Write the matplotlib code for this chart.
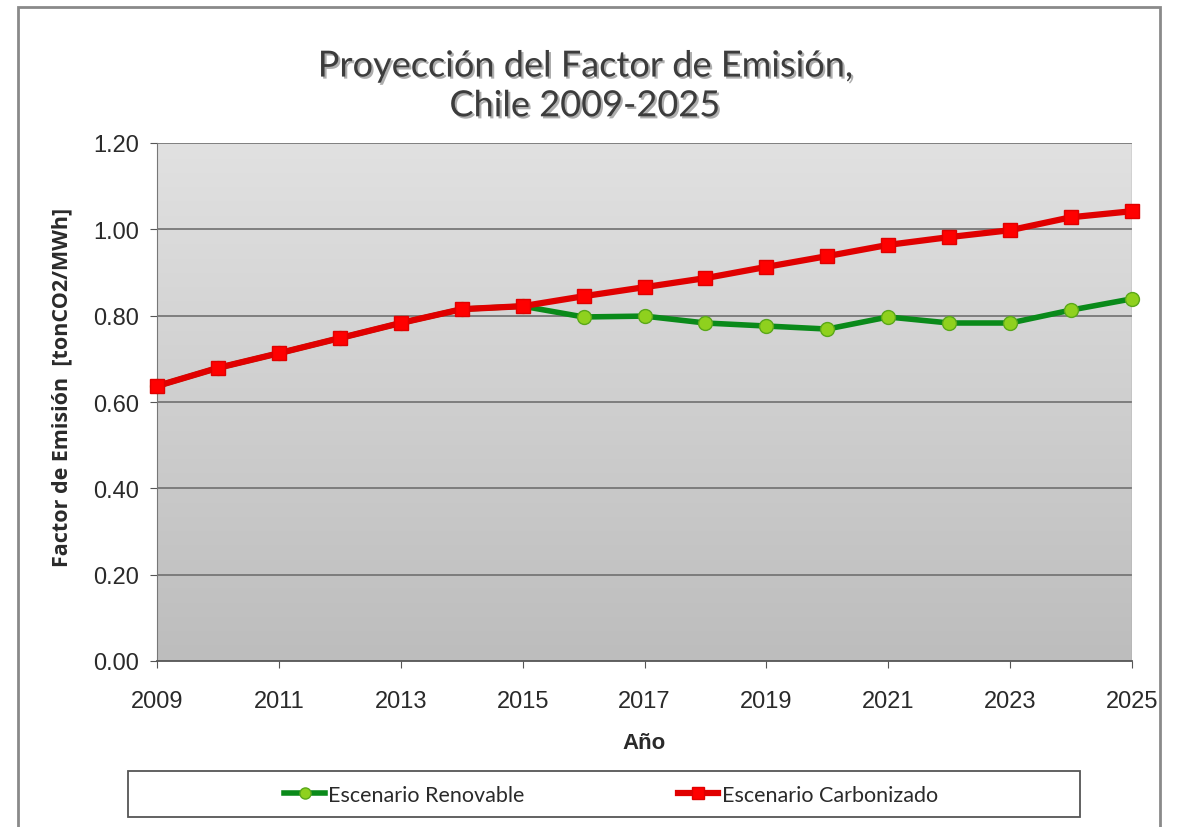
import matplotlib
matplotlib.use('Agg')
import matplotlib.pyplot as plt
import numpy as np
from matplotlib.patches import Rectangle
import matplotlib.patheffects as pe

# datos
years = list(range(2009, 2026))
renovable = [0.637, 0.679, 0.713, 0.748, 0.783, 0.815, 0.822, 0.797, 0.799, 0.783,
             0.776, 0.769, 0.797, 0.783, 0.783, 0.813, 0.839]
carbonizado = [0.637, 0.679, 0.713, 0.748, 0.783, 0.815, 0.822, 0.845, 0.866, 0.887,
               0.913, 0.938, 0.964, 0.982, 0.998, 1.028, 1.042]
xticks = list(range(2009, 2026, 2))
yticks = [0.0, 0.2, 0.4, 0.6, 0.8, 1.0, 1.2]

fig = plt.figure(figsize=(11.78, 8.28), dpi=100)
# marco exterior
fig.patches.append(Rectangle((18 / 1178, -0.01), 1142 / 1178, 1 - 8 / 828 + 0.01,
                             transform=fig.transFigure, fill=False,
                             edgecolor='#8a8a8a', linewidth=2))
# marco de la leyenda
fig.patches.append(Rectangle((128 / 1178, 1 - 818 / 828), (1080 - 128) / 1178, 46 / 828,
                             transform=fig.transFigure, facecolor='white',
                             edgecolor='#555555', linewidth=1.3))

ax = fig.add_axes([157 / 1178, 1 - 662 / 828, (1132 - 157) / 1178, (662 - 144) / 828])

# fondo degradado gris
cmap = matplotlib.colors.LinearSegmentedColormap.from_list('g', ['#e1e1e1', '#bdbdbd'])
grad = np.linspace(0, 1, 256).reshape(-1, 1)
ax.imshow(grad, cmap=cmap, extent=[0, 1, 0, 1], transform=ax.transAxes,
          aspect='auto', zorder=0)

ax.set_xlim(2009, 2025)
ax.set_ylim(0, 1.2)
for y in yticks[1:]:
    ax.axhline(y, color='#707070', linewidth=1.2, zorder=1)
ax.axvline(2025, color='#a0a0a0', linewidth=1, zorder=1)

ax.plot(years, renovable, color='#0a8a1a', linewidth=4, marker='o', markersize=10,
        markerfacecolor='#8fd11e', markeredgecolor='#5aa81a', markeredgewidth=1,
        label='Escenario Renovable', zorder=3, clip_on=False)
ax.plot(years, carbonizado, color='#e00000', linewidth=4.5, marker='s', markersize=10,
        markerfacecolor='#ff0000', markeredgecolor='#e00000',
        label='Escenario Carbonizado', zorder=4, clip_on=False)

ax.set_xticks(xticks)
ax.set_yticks(yticks)
ax.set_yticklabels(['%.2f' % v for v in yticks])
ax.tick_params(axis='both', direction='out', length=5, color='#555555',
               labelsize=17, labelcolor='#2a2a2a')
for lab in ax.get_xticklabels() + ax.get_yticklabels():
    lab.set_family('Liberation Sans')
ax.tick_params(axis='y', pad=8)
ax.tick_params(axis='x', pad=16)

for s in ['top', 'right']:
    ax.spines[s].set_visible(False)
ax.spines['left'].set_color('#777777')
ax.spines['bottom'].set_color('#555555')
ax.spines['bottom'].set_linewidth(1.3)

ax.set_xlabel('Año', fontsize=16, fontweight='bold', family='Liberation Sans',
              labelpad=14, color='#2a2a2a')
ax.set_ylabel('Factor de Emisión  [tonCO2/MWh]', fontsize=15.5, fontweight='bold',
              family='Open Sans', color='#2a2a2a')
ax.yaxis.set_label_coords(-0.087, 0.53)

fig.text(0.4966, 0.895, 'Proyección del Factor de Emisión,\nChile 2009-2025', ha='center',
         va='center', fontsize=26, family='Lato', linespacing=1.25, color='#3c3c3c',
         path_effects=[pe.withSimplePatchShadow(offset=(1.5, -1.5), shadow_rgbFace='#9a9a9a',
                                                alpha=0.8)])

leg = fig.legend(loc='center', bbox_to_anchor=(611 / 1178, 1 - 796 / 828), ncol=2,
                 frameon=False, prop={'family': 'Lato', 'size': 15.5}, columnspacing=7.1,
                 handlelength=1.9, handletextpad=0.15, markerscale=0.8)
for t in leg.get_texts():
    t.set_color('#2a2a2a')

fig.savefig('out.png', dpi=100)
